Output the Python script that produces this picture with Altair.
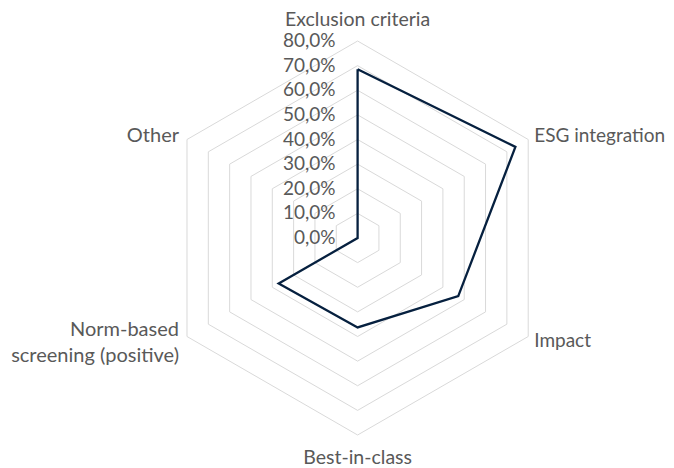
import math
import altair as alt
import pandas as pd

categories = ["Exclusion criteria", "ESG integration", "Impact", "Best-in-class",
              "Norm-based\nscreening (positive)", "Other"]
values = [68.5, 74.0, 47.2, 36.3, 37.0, 0.0]
tick_levels = [0, 10, 20, 30, 40, 50, 60, 70, 80]
tick_labels = ["0,0%", "10,0%", "20,0%", "30,0%", "40,0%", "50,0%", "60,0%", "70,0%", "80,0%"]
label_side = ["top", "upper-right", "lower-right", "bottom", "lower-left", "upper-left"]

n = len(categories)
angles = [2 * math.pi * i / n for i in range(n)]

# series polygon (closed)
series_rows = []
for k in range(n + 1):
    i = k % n
    series_rows.append({"order": k, "x": values[i] * math.sin(angles[i]),
                        "y": values[i] * math.cos(angles[i])})
series_df = pd.DataFrame(series_rows)

# grid hexagons
grid_rows = []
for lvl in tick_levels[1:]:
    for k in range(n + 1):
        i = k % n
        grid_rows.append({"level": lvl, "order": k, "x": lvl * math.sin(angles[i]),
                          "y": lvl * math.cos(angles[i])})
grid_df = pd.DataFrame(grid_rows)

tick_df = pd.DataFrame({"level": tick_levels, "label": tick_labels, "x": [0] * len(tick_levels)})

outer = tick_levels[-1]
cat_df = pd.DataFrame({
    "cat": categories,
    "side": label_side,
    "x": [outer * math.sin(a) for a in angles],
    "y": [outer * math.cos(a) for a in angles],
})

W, H = 658, 460
cx, cy = 349.6, 230.0
ppu = 197.0 / 80.0
xs = alt.Scale(domain=[-cx / ppu, (W - cx) / ppu], range=[0, W], nice=False, zero=False)
ys = alt.Scale(domain=[-(H - cy) / ppu, cy / ppu], range=[H, 0], nice=False, zero=False)
X = lambda f="x": alt.X(f, type="quantitative", scale=xs, axis=None)
Y = lambda f="y": alt.Y(f, type="quantitative", scale=ys, axis=None)

FONT = "Lato"
FS = 20
FT = 19
GRAY = "#595959"

grid = alt.Chart(grid_df).mark_line(color="#D9D9D9", strokeWidth=1).encode(
    x=X(), y=Y(), detail="level:N", order="order:Q")

series = alt.Chart(series_df).mark_line(color="#06203F", strokeWidth=2.3, strokeJoin="miter").encode(
    x=X(), y=Y(), order="order:Q")

ticks = alt.Chart(tick_df).mark_text(align="right", baseline="middle", dx=-22,
                                     font=FONT, fontSize=FT, color=GRAY).encode(
    x=X(), y=Y("level"), text="label:N")

base_cat = alt.Chart(cat_df)


def cat_layer(side, align, dx, dy, fs):
    return base_cat.transform_filter(f"datum.side == '{side}'").mark_text(
        align=align, baseline="middle", dx=dx, dy=dy, font=FONT, fontSize=fs, color=GRAY,
        lineBreak="\n", lineHeight=26).encode(x=X(), y=Y(), text="cat:N")


labels = [
    cat_layer("top", "center", 0, -21, 19.5),
    cat_layer("bottom", "center", 0, 23, 19.5),
    cat_layer("upper-right", "left", 6, -4, 19),
    cat_layer("lower-right", "left", 6, 4, 19),
    cat_layer("upper-left", "right", -8, -4, FS),
    cat_layer("lower-left", "right", -8, -7, FS),
]

chart = alt.layer(grid, series, ticks, *labels).properties(
    width=W, height=H, autosize=alt.AutoSizeParams(type="none"), padding=0,
    background="white"
).configure_view(stroke=None)

chart.save("out.html", embed_options={"renderer": "svg", "actions": False})
